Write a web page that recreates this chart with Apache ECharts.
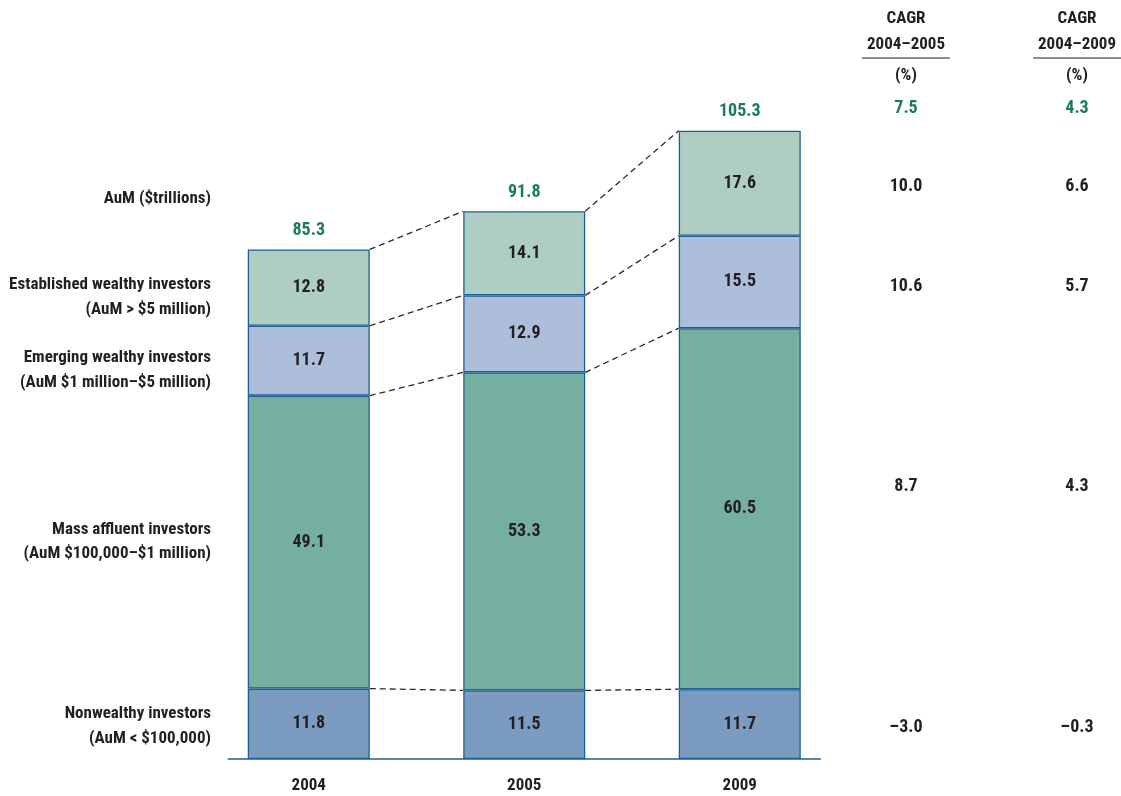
<!DOCTYPE html>
<html>
<head>
<meta charset="utf-8">
<script src="https://cdn.jsdelivr.net/npm/echarts@6/dist/echarts.min.js"></script>
<style>html,body{margin:0;padding:0;background:#fff}#c{width:1121px;height:796px}</style>
</head>
<body>
<div id="c"></div>
<script>
var categories = ['2004', '2005', '2009'];
var seriesNames = ['Nonwealthy investors', 'Mass affluent investors', 'Emerging wealthy investors', 'Established wealthy investors'];
var nonwealthy = [11.8, 11.5, 11.7];
var massAffluent = [49.1, 53.3, 60.5];
var emerging = [11.7, 12.9, 15.5];
var established = [12.8, 14.1, 17.6];
var totals = [85.3, 91.8, 105.3];
var cagr0405 = [7.5, 10.0, 10.6, 8.7, -3.0];
var cagr0409 = [4.3, 6.6, 5.7, 4.3, -0.3];
var cagrHeaders = ['2004–2005', '2004–2009'];

var FONT = "'Liberation Sans Narrow', 'Roboto Condensed', 'DejaVu Sans Condensed', 'Arial Narrow', sans-serif";
var TXT = '#231f20';
var GREEN = '#1b7c5c';
var BORDER = '#1f5f93';
var COLORS = ['#7b9bc1', '#74af9f', '#adbedb', '#aecec3'];
var BAR_W = 122;

var stacks = [nonwealthy, massAffluent, emerging, established];

var chart = echarts.init(document.getElementById('c'), null, {renderer: 'canvas'});

function fmt(v) { return (v < 0 ? '–' + Math.abs(v).toFixed(1) : v.toFixed(1)); }

var barSeries = stacks.map(function (arr, si) {
  return {
    name: seriesNames[si],
    type: 'bar',
    stack: 'aum',
    barWidth: BAR_W,
    data: arr,
    itemStyle: {color: COLORS[si], borderColor: BORDER, borderWidth: 1.3},
    label: {
      show: true, position: 'inside', color: TXT,
      fontFamily: FONT, fontWeight: 'bold', fontSize: 18,
      formatter: function (p) { return p.value.toFixed(1); }
    },
    z: 3
  };
});

function cum(ci, level) {
  var s = 0;
  for (var k = 0; k <= level; k++) s += stacks[k][ci];
  return s;
}

var connectorData = [];
for (var g = 0; g < categories.length - 1; g++) {
  for (var lv = 0; lv < stacks.length; lv++) connectorData.push([g, lv]);
}

var connectors = {
  type: 'custom',
  data: connectorData,
  silent: true,
  z: 2,
  renderItem: function (params, api) {
    var g = api.value(0), lv = api.value(1);
    var p1 = api.coord([g, cum(g, lv)]);
    var p2 = api.coord([g + 1, cum(g + 1, lv)]);
    var children = [{
      type: 'line',
      shape: {x1: p1[0] + BAR_W / 2, y1: p1[1], x2: p2[0] - BAR_W / 2, y2: p2[1]},
      style: {stroke: '#2a2a2a', lineWidth: 1.3, lineDash: [6, 4]}
    }];
    if (params.dataIndex === 0) {
      var a = api.coord([0, 0]);
      var b = api.coord([categories.length - 1, 0]);
      children.push({
        type: 'line',
        shape: {x1: a[0] - BAR_W / 2 - 20, y1: a[1], x2: b[0] + BAR_W / 2 + 20, y2: b[1]},
        style: {stroke: BORDER, lineWidth: 1.6}
      });
    }
    return {type: 'group', children: children};
  }
};

var totalsSeries = {
  type: 'custom',
  data: totals.map(function (t, i) { return [i, t]; }),
  silent: true,
  z: 4,
  renderItem: function (params, api) {
    var i = api.value(0);
    var p = api.coord([i, cum(i, stacks.length - 1)]);
    return {
      type: 'text',
      x: p[0], y: p[1] - 19,
      style: {text: api.value(1).toFixed(1), textAlign: 'center', textVerticalAlign: 'middle',
        fill: GREEN, font: 'bold 18px ' + FONT}
    };
  }
};

function txt(x, y, s, opts) {
  opts = opts || {};
  return {
    type: 'text', x: x, y: y,
    style: {text: s, textAlign: opts.align || 'center', textVerticalAlign: 'middle',
      fill: opts.color || TXT, font: 'bold ' + (opts.size || 17) + 'px ' + FONT, lineHeight: 25}
  };
}

var LX = 211;
var graphics = [
  txt(LX, 199, 'AuM ($trillions)', {align: 'right'}),
  txt(LX, 285, 'Established wealthy investors', {align: 'right'}),
  txt(LX, 310, '(AuM > $5 million)', {align: 'right'}),
  txt(LX, 358, 'Emerging wealthy investors', {align: 'right'}),
  txt(LX, 383, '(AuM $1 million–$5 million)', {align: 'right'}),
  txt(LX, 530, 'Mass affluent investors', {align: 'right'}),
  txt(LX, 554, '(AuM $100,000–$1 million)', {align: 'right'}),
  txt(LX, 714, 'Nonwealthy investors', {align: 'right'}),
  txt(LX, 739, '(AuM < $100,000)', {align: 'right'})
];
var colX = [906, 1077];
var rowY = [108, 186, 286, 486, 727];
var colVals = [cagr0405, cagr0409];
colX.forEach(function (cx, ci) {
  graphics.push(txt(cx, 19, 'CAGR'));
  graphics.push(txt(cx, 45, cagrHeaders[ci]));
  graphics.push({type: 'line', shape: {x1: cx - 44, y1: 58, x2: cx + 44, y2: 58}, style: {stroke: TXT, lineWidth: 1.2}});
  graphics.push(txt(cx, 76, '(%)'));
  colVals[ci].forEach(function (v, ri) {
    graphics.push(txt(cx, rowY[ri], fmt(v), {color: ri === 0 ? GREEN : TXT, size: 18}));
  });
});

chart.setOption({
  animation: false,
  grid: {left: 201, right: 1121 - 847.5, top: 43, bottom: 37, containLabel: false},
  xAxis: {
    type: 'category', data: categories,
    axisLine: {show: false}, axisTick: {show: false},
    axisLabel: {color: TXT, fontFamily: FONT, fontWeight: 'bold', fontSize: 17, margin: 18}
  },
  yAxis: {type: 'value', min: 0, max: 120, show: false, splitLine: {show: false}},
  series: barSeries.concat([connectors, totalsSeries]),
  graphic: graphics
});
</script>
</body>
</html>
